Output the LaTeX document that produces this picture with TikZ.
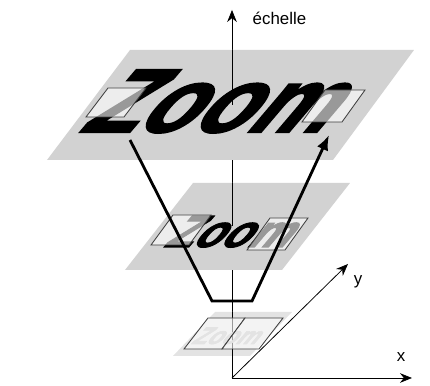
\documentclass[tikz,border=0pt]{standalone}
\usepackage{fontspec}
\setmainfont{Liberation Sans}
\newfontfamily\zoomfont{Liberation Sans Bold}[FakeBold=2.5]
\usetikzlibrary{arrows.meta}

\begin{document}
\begin{tikzpicture}[x=0.025cm,y=-0.025cm,
      plane/.style={fill=gray!35,draw=none},
      lens/.style={draw=black!75,fill=white,fill opacity=0.6,line width=0.6pt},
      axis/.style={-{Stealth[length=0.3cm,width=0.24cm]},line width=0.55pt},
      word/.style={font=\zoomfont,xslant=0.85,anchor=base,inner sep=0pt},
      lbl/.style={font=\fontsize{12}{14}\selectfont,inner sep=1pt},
      arr/.style={-{Latex[length=0.38cm,width=0.3cm]},line width=2pt,line join=miter}
    ]
  \useasboundingbox (0,0) rectangle (430,386);
  % axes
  \coordinate (O) at (232,378);
  \coordinate (scale) at (232,10);
  \coordinate (xend) at (412,378);
  \coordinate (yend) at (348,264);
  \draw[axis] (O) -- (scale);
  \draw[axis] (O) -- (xend);
  \draw[axis] (O) -- (yend);
  \node[lbl,anchor=west] (echelle) at (251,18) {échelle};
  \node[lbl] (xlbl) at (401,357) {x};
  \node[lbl] (ylbl) at (358,282) {y};
  % planes
  \fill[plane] (130,50) -- (414,50) -- (333,160) -- (47,160) -- cycle;
  \fill[plane] (193,183) -- (350,183) -- (282,270) -- (125,270) -- cycle;
  \fill[gray!22] (215,312) -- (292,312) -- (250,356) -- (173,356) -- cycle;
  % axis in front of the far half of each plane
  \draw[line width=0.55pt] (232,50) -- (232,105);
  \draw[line width=0.55pt] (232,183) -- (232,226);
  \draw[line width=0.55pt] (232,312) -- (232,356);
  % words
  \node[word,font=\zoomfont\fontsize{64}{64}\selectfont] (big) at (200,132) {Zoom};
  \node[word,font=\zoomfont\fontsize{32}{32}\selectfont] (mid) at (224,247) {Zoom};
  \node[word,font=\zoomfont\fontsize{17}{17}\selectfont,text=gray!55] (small) at (223,344) {Zoom};
  % lenses
  \filldraw[lens] (108,88) -- (146,88) -- (124,117) -- (86,117) -- cycle;
  \filldraw[lens] (325,90) -- (365,90) -- (342,122) -- (302,122) -- cycle;
  \filldraw[lens] (173,215) -- (211,215) -- (189,245) -- (151,245) -- cycle;
  \filldraw[lens] (270,218) -- (308,218) -- (285,250) -- (247,250) -- cycle;
  \filldraw[lens] (208,318) -- (245,318) -- (222,349) -- (184,349) -- cycle;
  \filldraw[lens] (245,318) -- (283,318) -- (259,349) -- (222,349) -- cycle;
  % funnel
  \coordinate (fa) at (130,140);
  \coordinate (fb) at (212,301);
  \coordinate (fc) at (252,301);
  \coordinate (fd) at (329,135);
  \draw[arr] (fa) -- (fb) -- (fc) -- (fd);
\end{tikzpicture}
\end{document}
